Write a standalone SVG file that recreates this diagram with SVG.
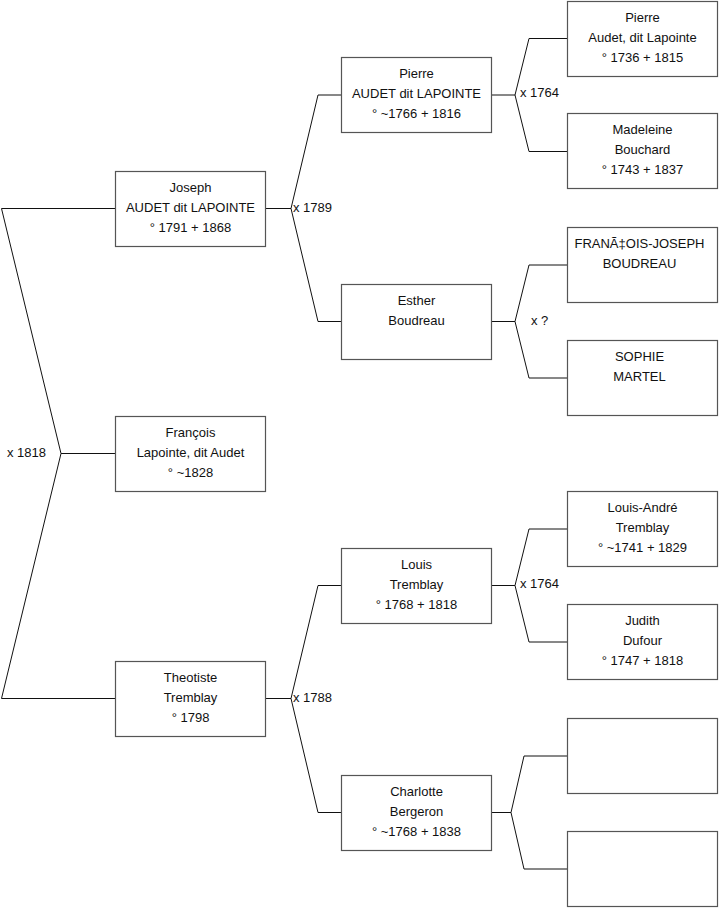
<svg xmlns="http://www.w3.org/2000/svg" width="719" height="908" viewBox="0 0 719 908">
<style>
.box{fill:#fff;stroke:#555;stroke-width:1.2}
.t{font-family:"Liberation Sans",Arial,sans-serif;font-size:13px;fill:#111;text-anchor:middle}
.lbl{font-family:"Liberation Sans",Arial,sans-serif;font-size:13px;fill:#111}
.c{fill:none;stroke:#111;stroke-width:1}
</style>
<rect width="719" height="908" fill="#fff"/>
<g id="connectors">
<path class="c" d="M115,208.5 H1.5 L61,453.5 L1.5,698.5 H115 M61,453.5 H115"/>
<path class="c" d="M265,208.5 H291 L318,95 H341 M291,208.5 L318,321.5 H341"/>
<path class="c" d="M265,698.5 H291 L318,585.5 H341 M291,698.5 L318,812.5 H341"/>
<path class="c" d="M491,95 H515 L529,38.5 H567 M515,95 L529,151.5 H567"/>
<path class="c" d="M491,321.5 H515 L529,265 H567 M515,321.5 L529,378 H567"/>
<path class="c" d="M491,585.5 H515 L529,529 H567 M515,585.5 L529,642 H567"/>
<path class="c" d="M491,812.5 H511 L524,756 H567 M511,812.5 L524,869 H567"/>
<text class="lbl" x="7" y="457">x 1818</text>
<text class="lbl" x="293" y="212">x 1789</text>
<text class="lbl" x="293" y="702">x 1788</text>
<text class="lbl" x="520" y="97">x 1764</text>
<text class="lbl" x="531" y="325">x ?</text>
<text class="lbl" x="520" y="588">x 1764</text>
</g>
<g id="joseph"><rect class="box" x="115.5" y="171.5" width="150" height="75"/>
<text class="t" x="190.5" y="191.5">Joseph</text><text class="t" x="190.5" y="211.5">AUDET dit LAPOINTE</text><text class="t" x="190.5" y="231.5">° 1791 + 1868</text></g>
<g id="francois"><rect class="box" x="115.5" y="416.5" width="150" height="75"/>
<text class="t" x="190.5" y="436.5">François</text><text class="t" x="190.5" y="456.5">Lapointe, dit Audet</text><text class="t" x="190.5" y="476.5">° ~1828</text></g>
<g id="theotiste"><rect class="box" x="115.5" y="661.5" width="150" height="75"/>
<text class="t" x="190.5" y="681.5">Theotiste</text><text class="t" x="190.5" y="701.5">Tremblay</text><text class="t" x="190.5" y="721.5">° 1798</text></g>
<g id="pierre2"><rect class="box" x="341.5" y="57.5" width="150" height="75"/>
<text class="t" x="416.5" y="77.5">Pierre</text><text class="t" x="416.5" y="97.5">AUDET dit LAPOINTE</text><text class="t" x="416.5" y="117.5">° ~1766 + 1816</text></g>
<g id="esther"><rect class="box" x="341.5" y="284.5" width="150" height="75"/>
<text class="t" x="416.5" y="304.5">Esther</text><text class="t" x="416.5" y="324.5">Boudreau</text></g>
<g id="louis"><rect class="box" x="341.5" y="548.5" width="150" height="75"/>
<text class="t" x="416.5" y="568.5">Louis</text><text class="t" x="416.5" y="588.5">Tremblay</text><text class="t" x="416.5" y="608.5">° 1768 + 1818</text></g>
<g id="charlotte"><rect class="box" x="341.5" y="775.5" width="150" height="75"/>
<text class="t" x="416.5" y="795.5">Charlotte</text><text class="t" x="416.5" y="815.5">Bergeron</text><text class="t" x="416.5" y="835.5">° ~1768 + 1838</text></g>
<g id="pierre3"><rect class="box" x="567.5" y="1.5" width="150" height="75"/>
<text class="t" x="642.5" y="21.5">Pierre</text><text class="t" x="642.5" y="41.5">Audet, dit Lapointe</text><text class="t" x="642.5" y="61.5">° 1736 + 1815</text></g>
<g id="madeleine"><rect class="box" x="567.5" y="113.5" width="150" height="75"/>
<text class="t" x="642.5" y="133.5">Madeleine</text><text class="t" x="642.5" y="153.5">Bouchard</text><text class="t" x="642.5" y="173.5">° 1743 + 1837</text></g>
<g id="francoisjoseph"><rect class="box" x="567.5" y="227.5" width="150" height="75"/>
<text class="t" x="639.5" y="247.5">FRANÃ‡OIS-JOSEPH</text><text class="t" x="639.5" y="267.5">BOUDREAU</text></g>
<g id="sophie"><rect class="box" x="567.5" y="340.5" width="150" height="75"/>
<text class="t" x="639.5" y="360.5">SOPHIE</text><text class="t" x="639.5" y="380.5">MARTEL</text></g>
<g id="louisandre"><rect class="box" x="567.5" y="491.5" width="150" height="75"/>
<text class="t" x="642.5" y="511.5">Louis-André</text><text class="t" x="642.5" y="531.5">Tremblay</text><text class="t" x="642.5" y="551.5">° ~1741 + 1829</text></g>
<g id="judith"><rect class="box" x="567.5" y="604.5" width="150" height="75"/>
<text class="t" x="642.5" y="624.5">Judith</text><text class="t" x="642.5" y="644.5">Dufour</text><text class="t" x="642.5" y="664.5">° 1747 + 1818</text></g>
<g id="empty1"><rect class="box" x="567.5" y="718.5" width="150" height="75"/></g>
<g id="empty2"><rect class="box" x="567.5" y="831.5" width="150" height="75"/></g>
</svg>
